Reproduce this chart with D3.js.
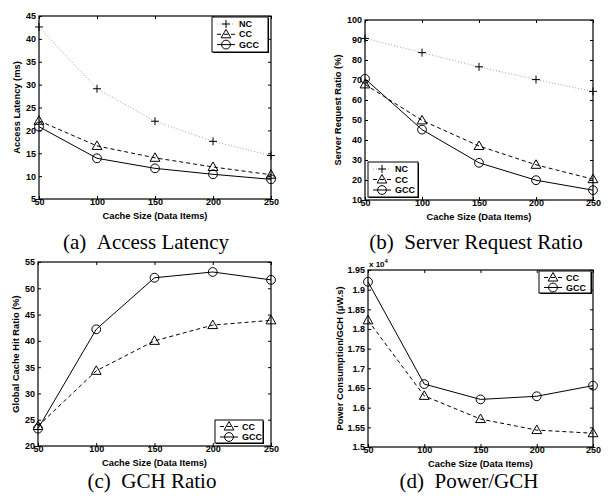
<!DOCTYPE html>
<html><head><meta charset="utf-8">
<script src="https://cdn.jsdelivr.net/npm/d3@7"></script>
<style>
body{margin:0;background:#fff;}
svg text{font-family:"Liberation Sans",Arial,sans-serif;font-weight:bold;}
svg text.cap{font-family:"Liberation Serif","Times New Roman",serif;font-weight:normal;}
</style></head>
<body><svg id="c" width="608" height="502"></svg>
<script>
const cacheSizes = [50, 100, 150, 200, 250];
const xTicks = [50, 100, 150, 200, 250];

const latencyNC  = [42.6, 29.1, 22.0, 17.6, 14.5];
const latencyCC  = [22.1, 16.6, 14.0, 12.0, 10.3];
const latencyGCC = [20.8, 13.9, 11.7, 10.4, 9.3];
const latencyTicks = [5, 10, 15, 20, 25, 30, 35, 40, 45];

const serverNC  = [90.8, 83.7, 76.6, 70.2, 64.3];
const serverCC  = [67.8, 49.8, 37.0, 27.6, 20.4];
const serverGCC = [70.6, 45.2, 28.6, 19.9, 14.9];
const serverTicks = [10, 20, 30, 40, 50, 60, 70, 80, 90, 100];

const gchCC  = [23.8, 34.3, 40.0, 43.0, 43.9];
const gchGCC = [23.3, 42.2, 52.0, 53.1, 51.6];
const gchTicks = [20, 25, 30, 35, 40, 45, 50, 55];

const powerCC  = [1.822, 1.630, 1.571, 1.543, 1.535];   // x 10^4
const powerGCC = [1.920, 1.660, 1.621, 1.629, 1.656];   // x 10^4
const powerTicks = [1.5, 1.55, 1.6, 1.65, 1.7, 1.75, 1.8, 1.85, 1.9, 1.95];

const styles = {
  NC:  {stroke: "#a0a0a0", dash: "1,2", marker: "plus"},
  CC:  {stroke: "#000", dash: "4,3", marker: "tri"},
  GCC: {stroke: "#000", dash: null, marker: "circle"}
};

const svg = d3.select("#c");

function marker(g, type, x, y) {
  if (type === "plus") {
    g.append("path").attr("d", `M${x-4},${y}H${x+4}M${x},${y-4}V${y+4}`)
      .attr("stroke", "#000").attr("stroke-width", 1).attr("fill", "none");
  } else if (type === "tri") {
    g.append("path").attr("d", `M${x},${y-5}L${x+4.9},${y+3.5}L${x-4.9},${y+3.5}Z`)
      .attr("stroke", "#000").attr("stroke-width", 1).attr("fill", "none");
  } else {
    g.append("circle").attr("cx", x).attr("cy", y).attr("r", 4.4)
      .attr("stroke", "#000").attr("stroke-width", 1).attr("fill", "none");
  }
}

function panel(cfg) {
  const {box, domain, yTicks, yFmt, series, yLabel, yLabelX, legend, caption, capX, capY} = cfg;
  const g = svg.append("g");
  const x = d3.scaleLinear().domain([50, 250]).range([box.l, box.r]);
  const y = d3.scaleLinear().domain(domain).range([box.b, box.t]);

  g.append("rect").attr("x", box.l).attr("y", box.t)
    .attr("width", box.r - box.l).attr("height", box.b - box.t)
    .attr("fill", "none").attr("stroke", "#000").attr("stroke-width", 1.2);

  const ax = g.append("g").attr("transform", `translate(0,${box.b})`)
    .call(d3.axisBottom(x).tickValues(xTicks).tickSizeInner(-3).tickSizeOuter(0).tickPadding(4));
  const axT = g.append("g").attr("transform", `translate(0,${box.t})`)
    .call(d3.axisTop(x).tickValues(xTicks).tickSizeInner(-3).tickSizeOuter(0).tickFormat(""));
  const ay = g.append("g").attr("transform", `translate(${box.l},0)`)
    .call(d3.axisLeft(y).tickValues(yTicks).tickSizeInner(-3).tickSizeOuter(0).tickPadding(3).tickFormat(yFmt));
  const ayR = g.append("g").attr("transform", `translate(${box.r},0)`)
    .call(d3.axisRight(y).tickValues(yTicks).tickSizeInner(-3).tickSizeOuter(0).tickFormat(""));
  [ax, axT, ay, ayR].forEach(a => {
    a.select(".domain").remove();
    a.selectAll("line").attr("stroke", "#000");
    a.selectAll("text").attr("font-size", 9).attr("fill", "#000")
      .style("font-family", '"Liberation Sans",Arial,sans-serif').style("font-weight", "bold");
  });
  ax.selectAll("text").attr("dy", "0.6em").attr("y", 1);

  const line = d3.line().x((d, i) => x(cacheSizes[i])).y(d => y(d));
  series.forEach(s => {
    const st = styles[s.name];
    g.append("path").datum(s.values).attr("d", line)
      .attr("fill", "none").attr("stroke", st.stroke).attr("stroke-width", 1)
      .attr("stroke-dasharray", st.dash);
    s.values.forEach((v, i) => marker(g, st.marker, x(cacheSizes[i]), y(v)));
  });

  g.append("text").attr("x", (box.l + box.r) / 2).attr("y", box.b + 20)
    .attr("text-anchor", "middle").attr("font-size", 9.3).text("Cache Size (Data Items)");
  g.append("text").attr("transform", `translate(${yLabelX},${(box.t + box.b) / 2}) rotate(-90)`)
    .attr("text-anchor", "middle").attr("font-size", 9.3).text(yLabel);

  const L = legend;
  const lg = g.append("g");
  lg.append("rect").attr("x", L.x + 1).attr("y", L.y + 1).attr("width", L.w).attr("height", L.h)
    .attr("fill", "#000");
  lg.append("rect").attr("x", L.x).attr("y", L.y).attr("width", L.w).attr("height", L.h)
    .attr("fill", "#fff").attr("stroke", "#000").attr("stroke-width", 1);
  series.forEach((s, i) => {
    const st = styles[s.name];
    const yy = L.y + L.pad + i * L.step;
    lg.append("line").attr("x1", L.x + 5).attr("x2", L.x + 23).attr("y1", yy).attr("y2", yy)
      .attr("stroke", st.stroke).attr("stroke-dasharray", st.dash);
    marker(lg, st.marker, L.x + 14, yy);
    lg.append("text").attr("x", L.x + 27).attr("y", yy).attr("dy", "0.35em")
      .attr("font-size", 9).text(s.name);
  });

  g.append("text").attr("class", "cap").attr("x", capX).attr("y", capY)
    .attr("text-anchor", "middle").attr("font-size", 21).text(caption);
  return {g, x, y};
}

panel({
  box: {l: 39, r: 271, t: 16, b: 199}, domain: [5, 45], yTicks: latencyTicks, yFmt: d3.format("d"),
  series: [{name: "NC", values: latencyNC}, {name: "CC", values: latencyCC}, {name: "GCC", values: latencyGCC}],
  yLabel: "Access Latency (ms)", yLabelX: 20,
  legend: {x: 212, y: 17, w: 56, h: 35, pad: 7, step: 10.3},
  caption: "(a)\u00a0\u00a0Access Latency", capX: 146, capY: 249
});

panel({
  box: {l: 365, r: 593, t: 20, b: 200}, domain: [10, 100], yTicks: serverTicks, yFmt: d3.format("d"),
  series: [{name: "NC", values: serverNC}, {name: "CC", values: serverCC}, {name: "GCC", values: serverGCC}],
  yLabel: "Server Request Ratio (%)", yLabelX: 341,
  legend: {x: 368, y: 162, w: 50, h: 35, pad: 7, step: 10.5},
  caption: "(b)\u00a0\u00a0Server Request Ratio", capX: 476, capY: 249
});

panel({
  box: {l: 38, r: 271, t: 262, b: 446}, domain: [20, 55], yTicks: gchTicks, yFmt: d3.format("d"),
  series: [{name: "CC", values: gchCC}, {name: "GCC", values: gchGCC}],
  yLabel: "Global Cache Hit Ratio (%)", yLabelX: 19,
  legend: {x: 215, y: 420, w: 48, h: 23, pad: 6.5, step: 10.5},
  caption: "(c)\u00a0\u00a0GCH Ratio", capX: 152, capY: 488
});

const pd = panel({
  box: {l: 368, r: 593, t: 270, b: 447}, domain: [1.5, 1.95], yTicks: powerTicks, yFmt: d3.format("~g"),
  series: [{name: "CC", values: powerCC}, {name: "GCC", values: powerGCC}],
  yLabel: "Power Consumption/GCH (\u03bcW.s)", yLabelX: 343,
  legend: {x: 539, y: 271, w: 52, h: 22, pad: 6.5, step: 10},
  caption: "(d)\u00a0\u00a0Power/GCH", capX: 469, capY: 488
});
const ex = pd.g.append("text").attr("x", 369).attr("y", 267).attr("font-size", 8);
ex.append("tspan").text("x 10");
ex.append("tspan").attr("dy", -4).attr("font-size", 6).text("4");
</script></body></html>
